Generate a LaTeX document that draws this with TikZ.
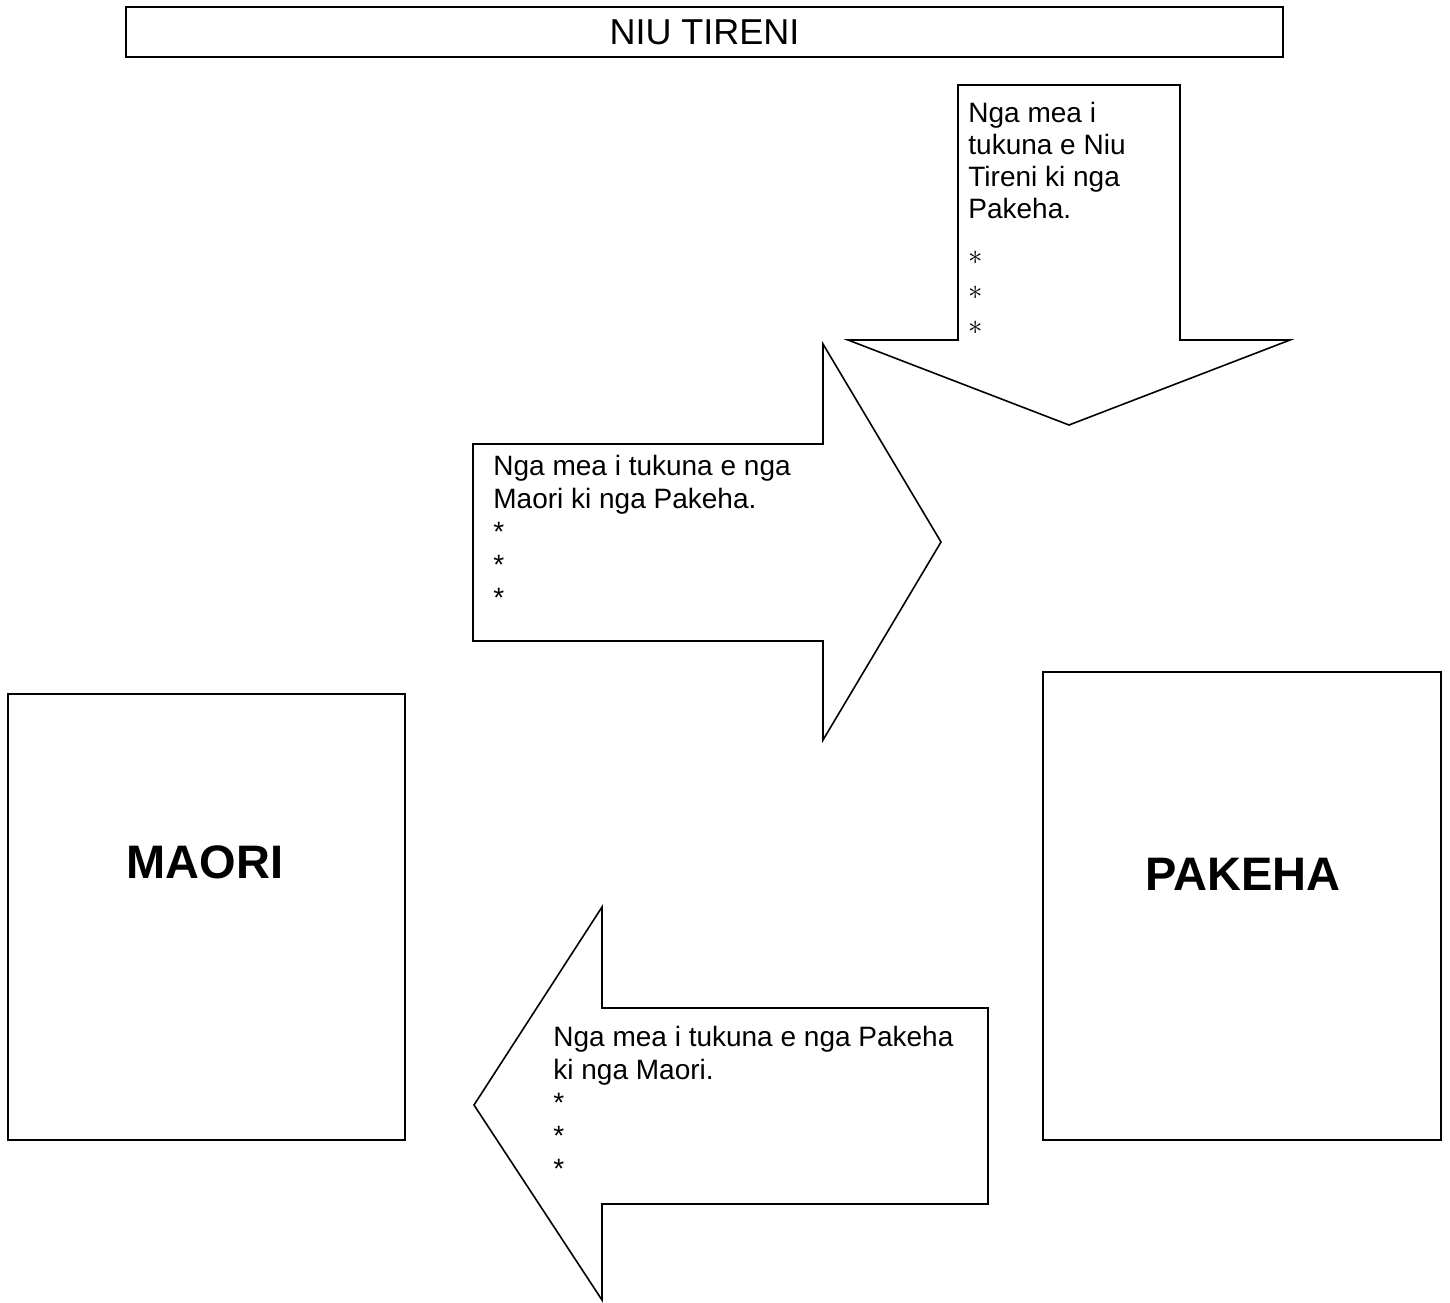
\documentclass[tikz,border=0pt]{standalone}
\usepackage{fontspec}
\setmainfont{Liberation Sans}
\begin{document}
\begin{tikzpicture}[x=0.5pt,y=-0.5pt,
		box/.style={draw,line width=0.8pt,inner sep=0pt},
		bigarrow/.style={draw,line width=0.8pt,line join=miter},
		big/.style={font=\fontsize{23.5}{28}\selectfont\bfseries,anchor=base},
		list/.style={anchor=base west,align=left,inner sep=0pt,font=\fontsize{14}{16.5}\selectfont}]
			\useasboundingbox (0,0) rectangle (1450,1302);
			
			\node[box,minimum width=578.5pt,minimum height=25pt,font=\fontsize{18}{21}\selectfont] (title) at (704.5,32){NIU TIRENI};
			
			\node[box,minimum width=198.5pt,minimum height=223pt] (maori) at (206.5,917){};
			\node[box,minimum width=199pt,minimum height=234pt] (pakeha) at (1242,906){};
			\node[big] (maorilbl) at (205,878){MAORI};
			\node[big] (pakehalbl) at (1243,890){PAKEHA};
			
			\draw[bigarrow] (958,85) -- (1180,85) -- (1180,340) -- (1290,340) -- (1069,425) -- (848,340) -- (958,340) -- cycle;
			\draw[bigarrow] (473,444) -- (823,444) -- (823,344) -- (941,542) -- (823,740) -- (823,641) -- (473,641) -- cycle;
			\draw[bigarrow] (988,1008) -- (602,1008) -- (602,907) -- (474,1105) -- (602,1300) -- (602,1204) -- (988,1204) -- cycle;
			
			% base anchor sits on the last line
			\node[list,font=\fontsize{14}{16}\selectfont] (niutext) at (968,334){Nga mea i\\tukuna e Niu\\Tireni ki nga\\Pakeha.\\[7pt]$\ast$\\[1.5pt]$\ast$\\[1.5pt]$\ast$};
			\node[list] (maoritext) at (493,607){Nga mea i tukuna e nga\\Maori ki nga Pakeha.\\*\\*\\*};
			\node[list] (pakehatext) at (553,1178){Nga mea i tukuna e nga Pakeha\\ki nga Maori.\\*\\*\\*};
			%\draw (maori) -- (pakeha);
		\end{tikzpicture}
\end{document}
